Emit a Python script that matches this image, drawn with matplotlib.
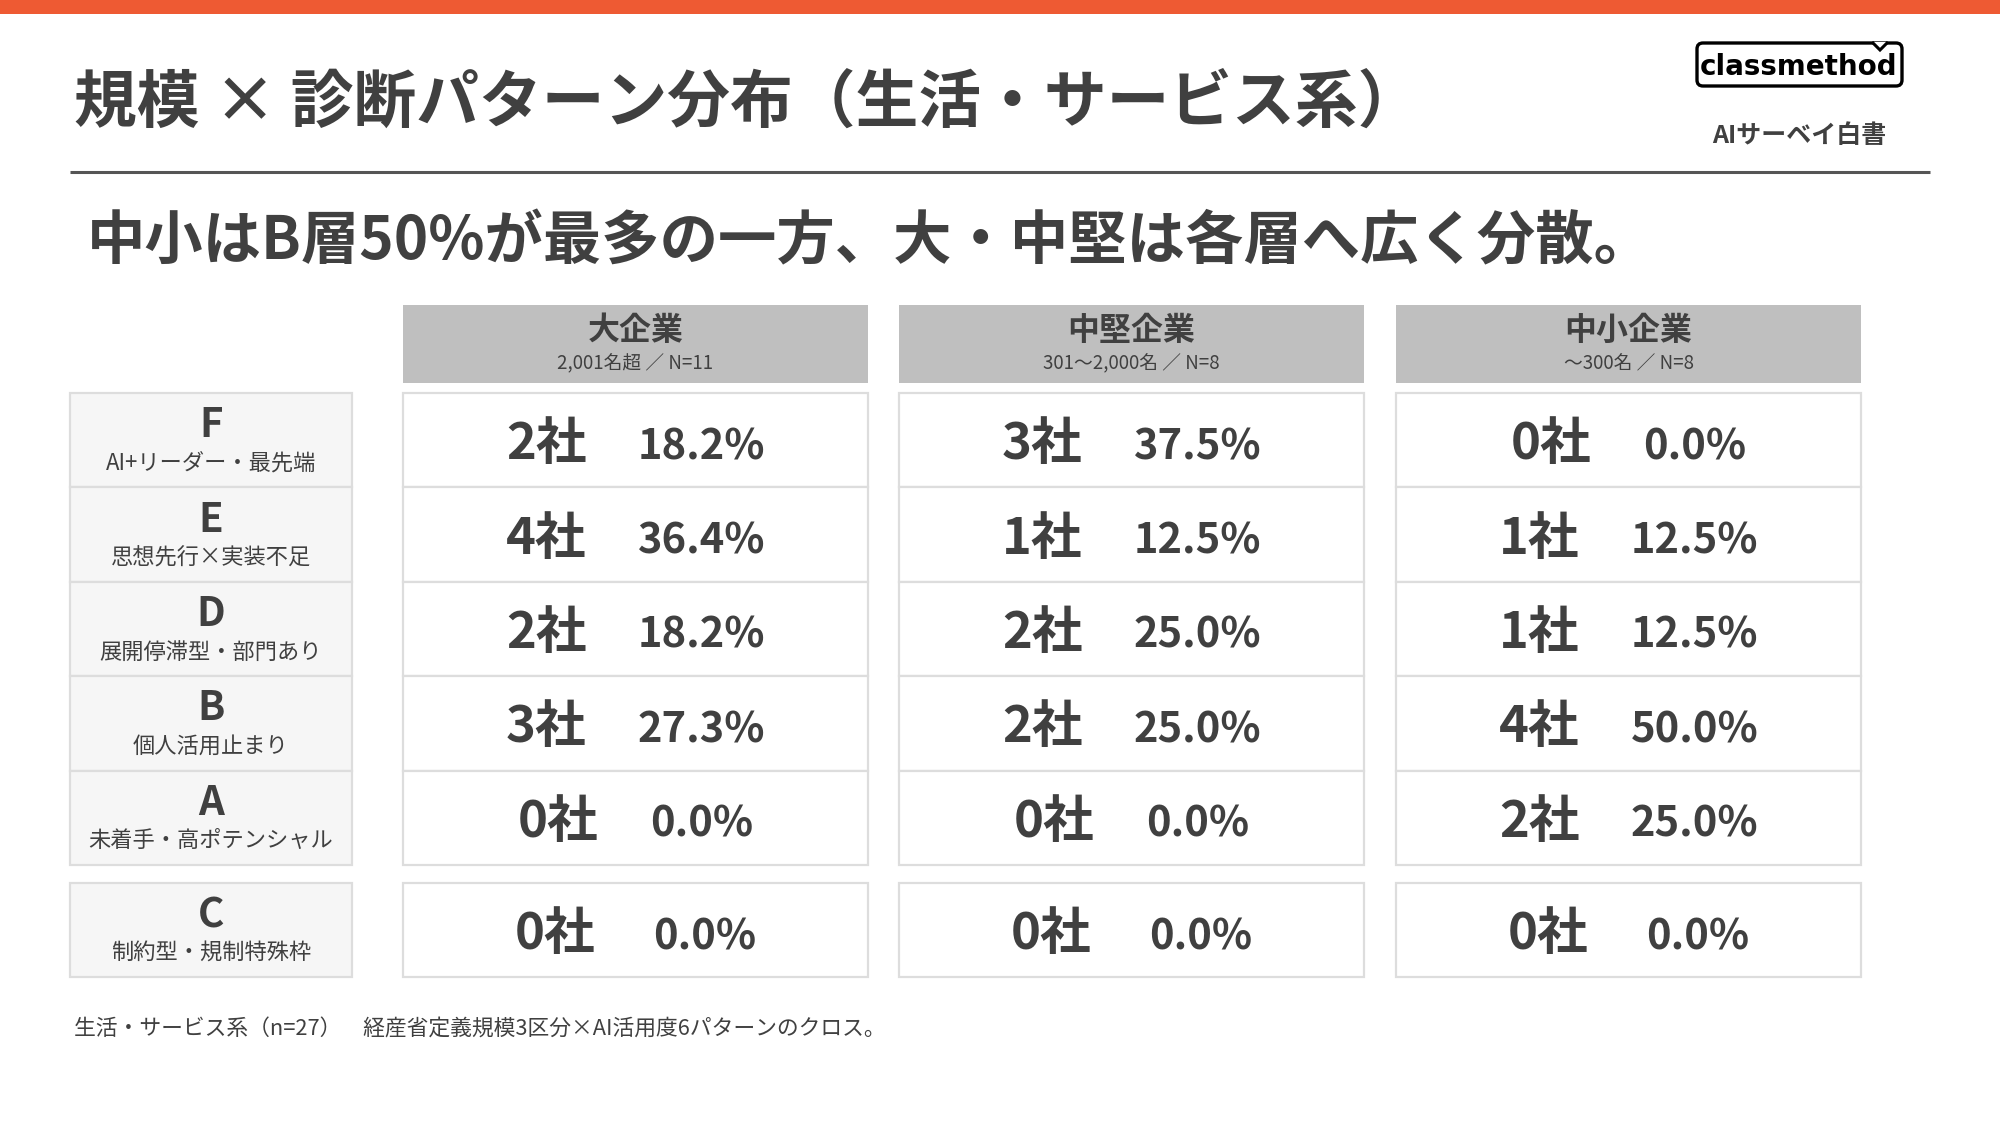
import matplotlib
matplotlib.use("Agg")
import matplotlib.pyplot as plt
from matplotlib.patches import Rectangle, FancyBboxPatch, Polygon

plt.rcParams['font.family'] = ['Noto Sans CJK JP', 'DejaVu Sans']

# ---- data ----
title = "規模 × 診断パターン分布（生活・サービス系）"
subtitle = "中小はB層50%が最多の一方、大・中堅は各層へ広く分散。"
sizes = ["大企業", "中堅企業", "中小企業"]
size_notes = ["2,001名超 ／ N=11", "301〜2,000名 ／ N=8", "〜300名 ／ N=8"]
patterns = ["F", "E", "D", "B", "A", "C"]
pattern_names = ["AI+リーダー・最先端", "思想先行×実装不足", "展開停滞型・部門あり",
                 "個人活用止まり", "未着手・高ポテンシャル", "制約型・規制特殊枠"]
counts_large = [2, 4, 2, 3, 0, 0]
counts_mid = [3, 1, 2, 2, 0, 0]
counts_small = [0, 1, 1, 4, 2, 0]
pct_large = [18.2, 36.4, 18.2, 27.3, 0.0, 0.0]
pct_mid = [37.5, 12.5, 25.0, 25.0, 0.0, 0.0]
pct_small = [0.0, 12.5, 12.5, 50.0, 25.0, 0.0]
footnote = "生活・サービス系（n=27）　経産省定義規模3区分×AI活用度6パターンのクロス。"

counts = [counts_large, counts_mid, counts_small]
pcts = [pct_large, pct_mid, pct_small]

TXT = "#404040"
BORDER = "#DDDDDD"

fig = plt.figure(figsize=(20, 11.25), dpi=100)
ax = fig.add_axes([0, 0, 1, 1])
ax.set_xlim(0, 2000)
ax.set_ylim(1125, 0)
ax.axis("off")
renderer = fig.canvas.get_renderer()

# top bar
ax.add_patch(Rectangle((0, 0), 2000, 14, facecolor="#EE5A33", edgecolor="none"))

# title and rule
ax.text(74, 103, title, fontsize=45.2, fontweight="bold", color=TXT, ha="left", va="center")
ax.plot([70, 1930], [172, 172], color="#555555", lw=2.2, solid_capstyle="butt")
ax.text(87, 242, subtitle, fontsize=42, fontweight="bold", color=TXT, ha="left", va="center")

# logo
logo = FancyBboxPatch((1697, 43), 205, 43, boxstyle="round,pad=0,rounding_size=6",
                      facecolor="white", edgecolor="black", lw=2.4)
ax.add_patch(logo)
ax.add_patch(Polygon([[1872, 42], [1880, 50], [1888, 42]], closed=False,
                     facecolor="white", edgecolor="black", lw=2.2, joinstyle="miter"))
ax.text(1799, 67, "classmethod", fontsize=20, fontweight="bold", color="black",
        ha="center", va="center", family=["DejaVu Sans"])
ax.text(1799, 136, "AIサーベイ白書", fontsize=18, fontweight="bold", color=TXT,
        ha="center", va="center")

# table geometry
col_x = [403, 899, 1396]
col_w = 465
head_top, head_bot = 305, 383
row_top0 = 393
row_h = 94.4
c_top = 883
lab_x, lab_w = 70, 282

def row_top(i):
    if i < 5:
        return row_top0 + i * row_h
    return c_top

# headers
for j, (s, n) in enumerate(zip(sizes, size_notes)):
    ax.add_patch(Rectangle((col_x[j], head_top), col_w, head_bot - head_top,
                           facecolor="#BFBFBF", edgecolor="none"))
    cx = col_x[j] + col_w / 2
    ax.text(cx, 331, s, fontsize=23, fontweight="bold", color=TXT, ha="center", va="center")
    ax.text(cx, 364, n, fontsize=13.5, color=TXT, ha="center", va="center")

# rows
for i, (p, name) in enumerate(zip(patterns, pattern_names)):
    y0 = row_top(i)
    cy = y0 + row_h / 2
    ax.add_patch(Rectangle((lab_x, y0), lab_w, row_h, facecolor="#F6F6F6",
                           edgecolor=BORDER, lw=1.6))
    ax.text(lab_x + lab_w / 2, cy - 3, p, fontsize=29, fontweight="bold", color=TXT,
            ha="center", va="baseline")
    ax.text(lab_x + lab_w / 2, cy + 23, name, fontsize=16, color=TXT,
            ha="center", va="center")
    for j in range(3):
        ax.add_patch(Rectangle((col_x[j], y0), col_w, row_h, facecolor="white",
                               edgecolor=BORDER, lw=1.6))
        cx = col_x[j] + col_w / 2
        tc = ax.text(0, cy + 19, f"{counts[j][i]}社", fontsize=36.5, fontweight="bold",
                     color=TXT, ha="left", va="baseline")
        tp = ax.text(0, cy + 19, f"{pcts[j][i]:.1f}%", fontsize=30, fontweight="bold",
                     color=TXT, ha="left", va="baseline")
        wc = tc.get_window_extent(renderer).width
        wp = tp.get_window_extent(renderer).width
        gap = 51 if i < 5 else 58
        start = cx - (wc + gap + wp) / 2
        tc.set_x(start)
        tp.set_x(start + wc + gap)

# footnote
ax.text(74, 1030, footnote, fontsize=15.7, color=TXT, ha="left", va="center")

fig.savefig("out.png", dpi=100, facecolor="white")
